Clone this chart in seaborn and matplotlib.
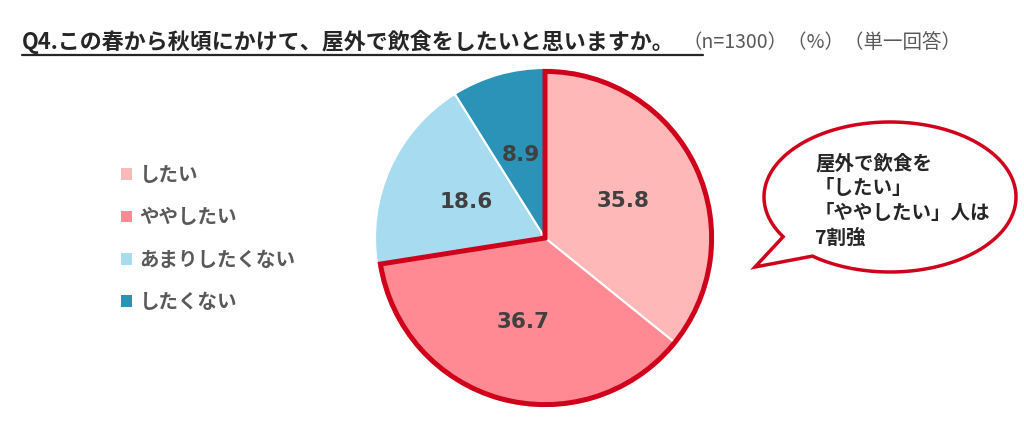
import numpy as np
import matplotlib
matplotlib.use("Agg")
import matplotlib.pyplot as plt
import seaborn as sns
from matplotlib.patches import Patch, Wedge, Polygon
from matplotlib.lines import Line2D

# data
categories = ["したい", "ややしたい", "あまりしたくない", "したくない"]
values = [35.8, 36.7, 18.6, 8.9]
colors = ["#FFB8B8", "#FF8A93", "#A7DCF0", "#2C93B8"]
highlight = ["したい", "ややしたい"]

title = "Q4.この春から秋頃にかけて、屋外で飲食をしたいと思いますか。"
subtitle = "（n=1300）（%）（単一回答）"
callout = "屋外で飲食を\n「したい」\n「ややしたい」人は\n7割強"

sns.set_theme(style="white")
plt.rcParams['font.family'] = ['Noto Sans CJK JP', 'DejaVu Sans']

W, H = 1024, 433
fig = plt.figure(figsize=(W / 100, H / 100), dpi=100)


def fx(px):
    return px / W


def fy(py):
    return 1 - py / H


# pie
cx, cy, r = 545, 238, 170
half = 200
ax = fig.add_axes([fx(cx - half), fy(cy + half), 2 * half / W, 2 * half / H])
wedges, _, autotexts = ax.pie(
    values, colors=colors, startangle=90, counterclock=False,
    autopct=lambda p: f"{p:.1f}", pctdistance=0.51,
    wedgeprops=dict(edgecolor="white", linewidth=1.5),
    textprops=dict(fontsize=15.5, fontweight="bold", color="#404040",
                   family="DejaVu Sans"))
lim = half / r
ax.set_xlim(-lim, lim)
ax.set_ylim(-lim, lim)
ax.set_aspect("equal")
ax.axis("off")

# red outline around the "want to" group
share = sum(v for c, v in zip(categories, values) if c in highlight) / sum(values)
ax.add_patch(Wedge((0, 0), 0.98, 90 - 360 * share, 90, fill=False,
                   edgecolor="#D0021B", linewidth=3.6, joinstyle="miter"))

# legend
handles = [Patch(facecolor=c, edgecolor="none") for c in colors]
leg = fig.legend(handles, categories, loc="upper left",
                 bbox_to_anchor=(fx(121), fy(166)), frameon=False,
                 fontsize=14, handlelength=0.55, handleheight=0.55,
                 handletextpad=0.4, labelspacing=1.2,
                 borderpad=0, borderaxespad=0)
for t in leg.get_texts():
    t.set_color("#595959")
    t.set_fontweight("bold")

# title
fig.text(fx(22), fy(42), title, fontsize=15.8, fontweight="bold",
         color="#262626", va="center", ha="left")
fig.add_artist(Line2D([fx(22), fx(703)], [fy(55), fy(55)],
                      color="#262626", linewidth=1.6))
fig.text(fx(683), fy(42), subtitle, fontsize=14, color="#595959",
         va="center", ha="left")

# speech bubble
bx, by, ba, bb = 890, 197, 126, 75
t = np.radians(np.linspace(232, 212 + 360, 200))
pts = [(fx(bx + ba * np.cos(a)), fy(by - bb * np.sin(a))) for a in t]
pts.append((fx(755), fy(267)))
fig.add_artist(Polygon(pts, closed=True, facecolor="white",
                       edgecolor="#D0021B", linewidth=2.5,
                       joinstyle="miter", transform=fig.transFigure))
fig.text(fx(815), fy(201), callout, fontsize=14, fontweight="bold",
         color="#262626", va="center", ha="left", linespacing=1.4)

fig.savefig("out.png", dpi=100)
